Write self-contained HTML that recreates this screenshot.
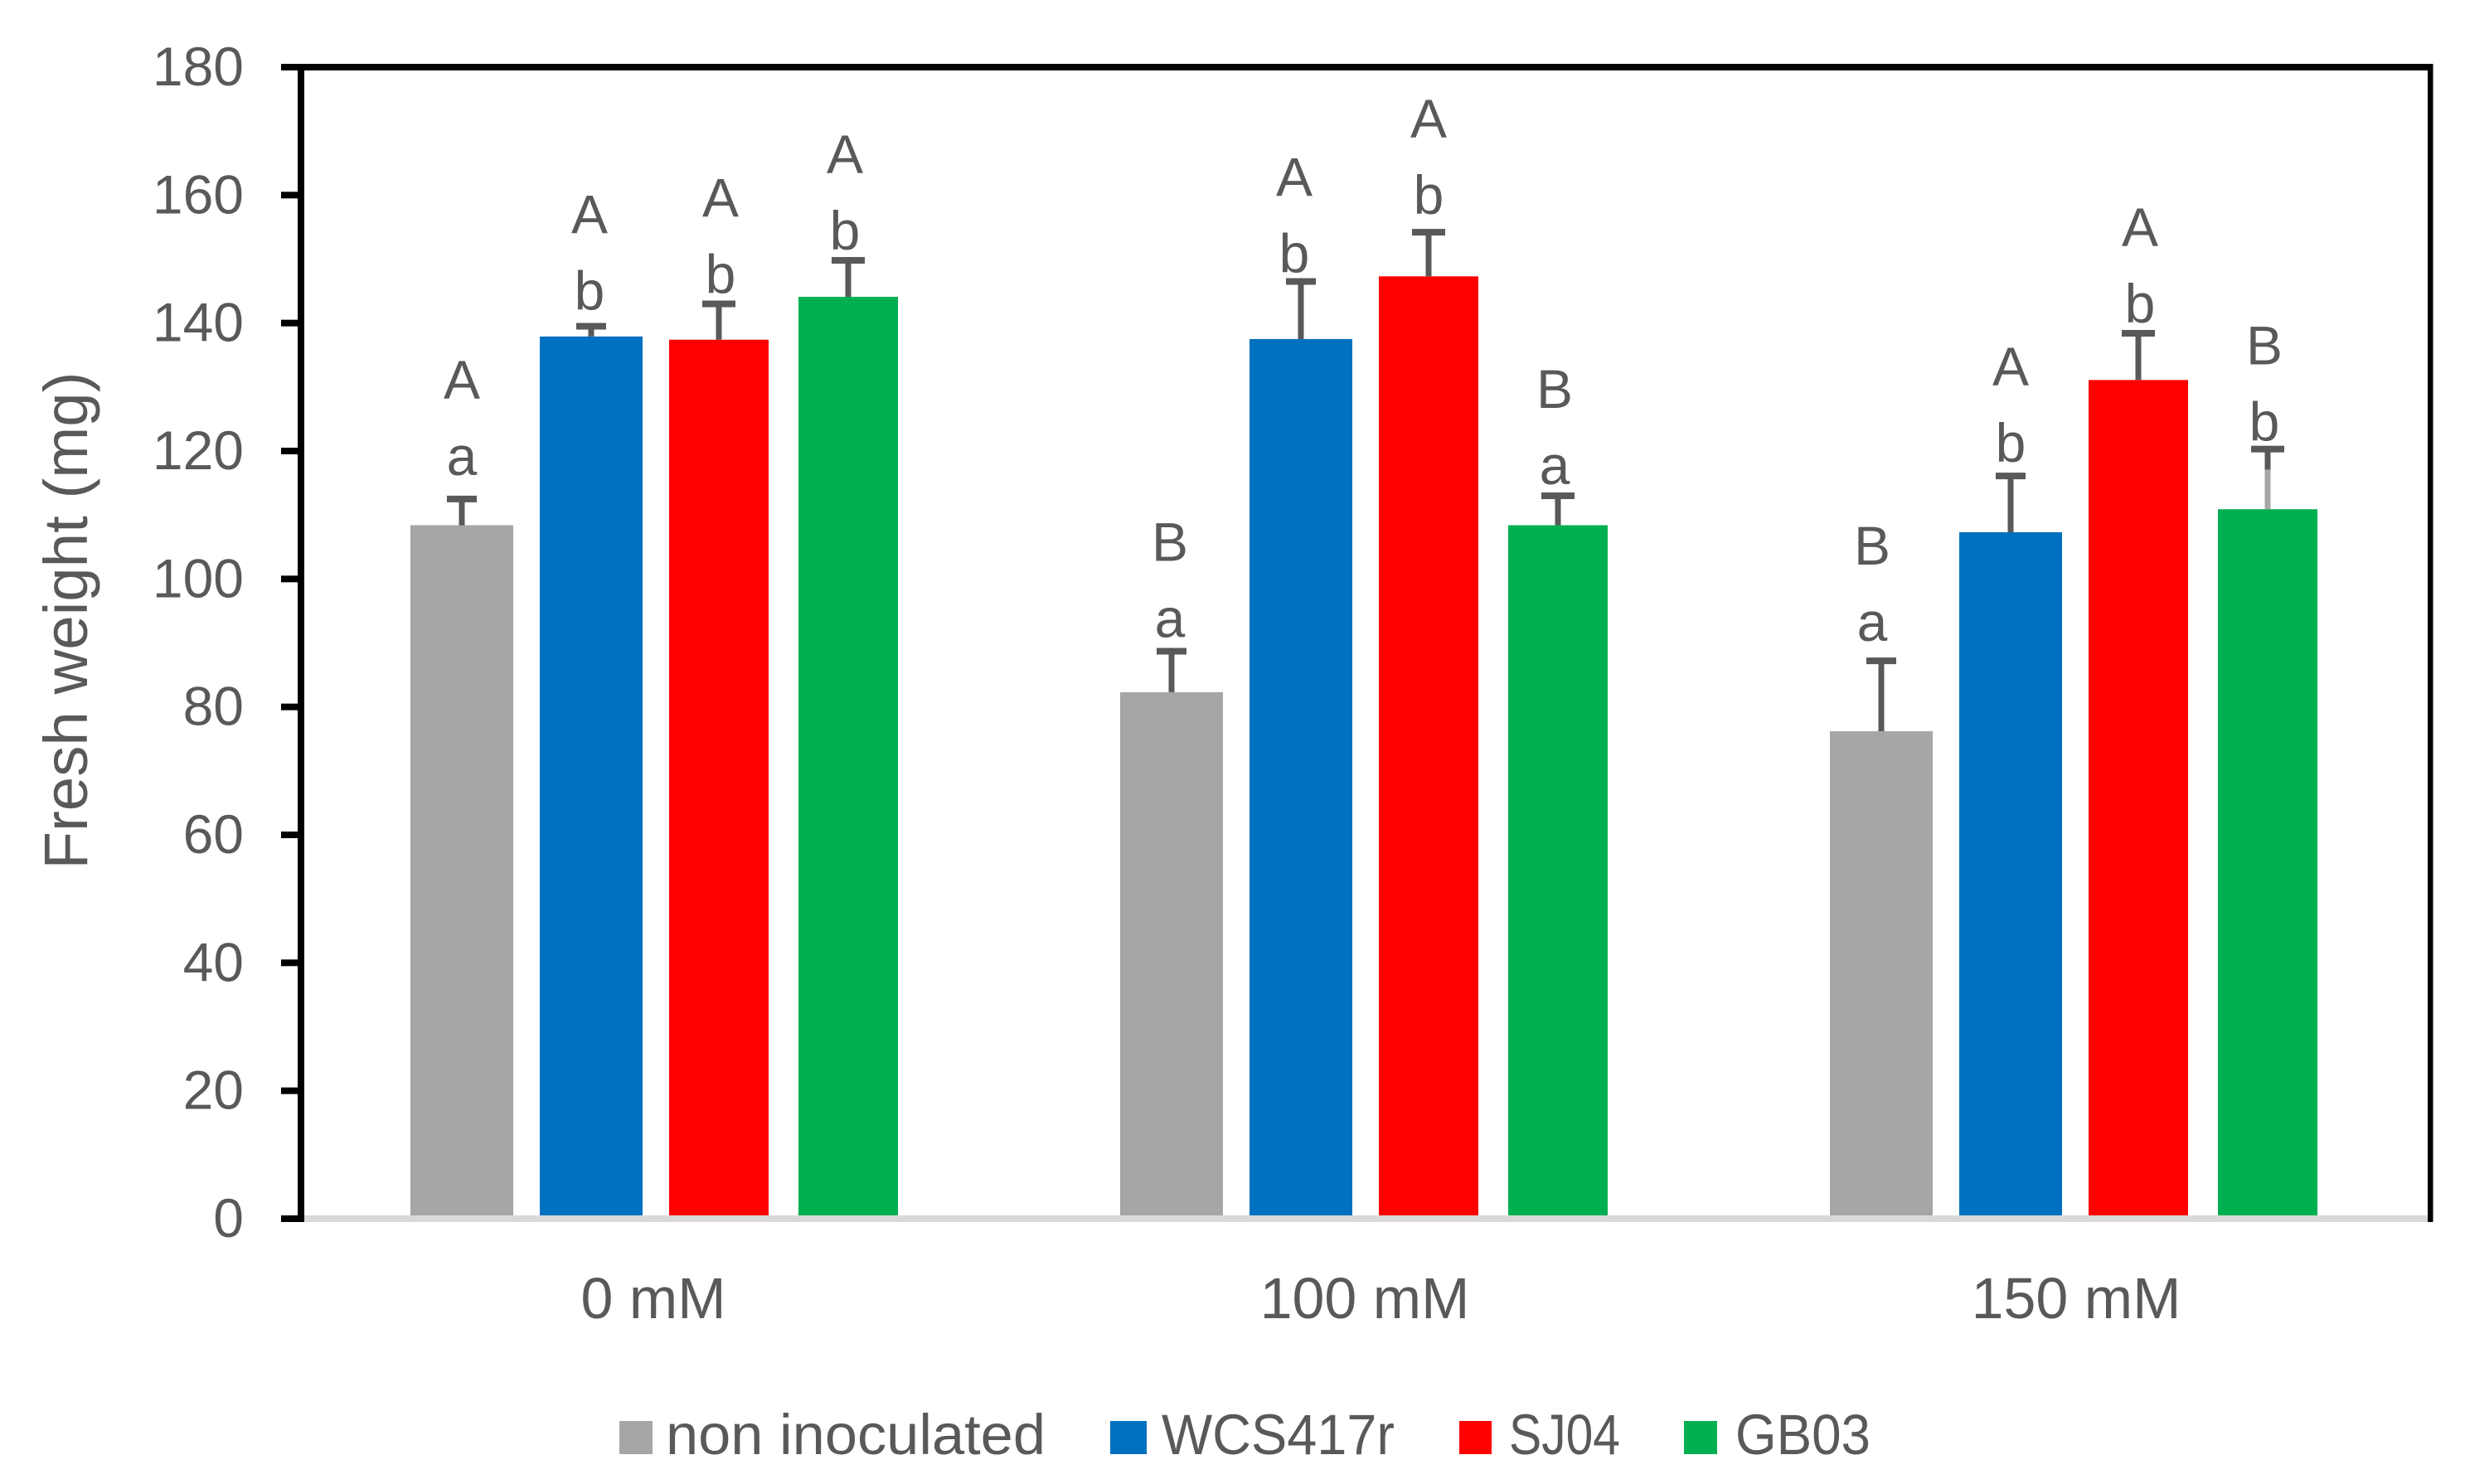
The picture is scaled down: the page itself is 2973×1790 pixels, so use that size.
<!DOCTYPE html>
<html lang="en">
<head>
<meta charset="utf-8">
<title>Fresh weight by salt concentration</title>
<style>
  html, body { margin: 0; padding: 0; background: #ffffff; }
  svg { display: block; }
  text { font-family: "Liberation Sans", sans-serif; fill: #595959; }
</style>
</head>
<body>
<svg id="chart" xmlns="http://www.w3.org/2000/svg" width="2973" height="1790" viewBox="0 0 2973 1790">
  <rect x="0" y="0" width="2973" height="1790" fill="#ffffff"/>
  <g id="bars"></g>
  <g id="errors"></g>
  <g id="letters"></g>
  <g id="axes"></g>
  <text transform="translate(105,748.5) rotate(-90)" text-anchor="middle" font-size="74" textLength="600" lengthAdjust="spacingAndGlyphs">Fresh weight (mg)</text>
  <g>
    <g>
      <rect x="747" y="1714" width="40" height="40" fill="#a6a6a6"/>
      <text x="803" y="1754" font-size="69" textLength="458" lengthAdjust="spacingAndGlyphs">non inoculated</text>
    </g>
    <g>
      <rect x="1339" y="1714" width="44" height="40" fill="#0070c0"/>
      <text x="1401" y="1754" font-size="69" textLength="281" lengthAdjust="spacingAndGlyphs">WCS417r</text>
    </g>
    <g>
      <rect x="1760" y="1714" width="39" height="40" fill="#ff0000"/>
      <text x="1820" y="1754" font-size="69" textLength="134" lengthAdjust="spacingAndGlyphs">SJ04</text>
    </g>
    <g>
      <rect x="2031" y="1714" width="40" height="40" fill="#00b050"/>
      <text x="2093" y="1754" font-size="69" textLength="163" lengthAdjust="spacingAndGlyphs">GB03</text>
    </g>
  </g>
</svg>
<script>
// ---- Chart data ----
const categories = ['0 mM', '100 mM', '150 mM'];
const yTicks = [0, 20, 40, 60, 80, 100, 120, 140, 160, 180];

const nonInoculated = [108.4, 82.3, 76.2];
const wcs417r = [137.9, 137.5, 107.3];
const sj04 = [137.4, 147.3, 131.1];
const gb03 = [144.1, 108.4, 110.9];

const nonInoculatedError = [4.1, 6.4, 11.0];
const wcs417rError = [1.6, 9.0, 8.8];
const sj04Error = [5.6, 6.9, 7.3];
const gb03Error = [5.7, 4.6, 9.4];

// Part of each GB03 error stem drawn in the lighter grey (the 150 mM bar only).
const gb03FadedStem = [0, 0, 6.2];

const nonInoculatedUpper = ['A', 'B', 'B'];
const wcs417rUpper = ['A', 'A', 'A'];
const sj04Upper = ['A', 'A', 'A'];
const gb03Upper = ['A', 'B', 'B'];

const nonInoculatedLower = ['a', 'a', 'a'];
const wcs417rLower = ['b', 'b', 'b'];
const sj04Lower = ['b', 'b', 'b'];
const gb03Lower = ['b', 'a', 'b'];

// ---- Layout ----
const plotLeft = 363, plotBottom = 1470, plotTop = 81, bandWidth = 856;
const yMax = 180;
const firstBarOffset = 132, barStep = 156;
const letterLineGap = 92;
const categoryLabelStart = 788, categoryLabelStep = 858;
const series = [
  { key: 'non-inoculated', values: nonInoculated, errors: nonInoculatedError, upper: nonInoculatedUpper, lower: nonInoculatedLower, color: '#a6a6a6', barWidth: 124, capWidth: 36, clearance: [29, 17, 24], letterShift: [0, -2, -11] },
  { key: 'wcs417r', values: wcs417r, errors: wcs417rError, upper: wcs417rUpper, lower: wcs417rLower, color: '#0070c0', barWidth: 124, capWidth: 36, clearance: [20, 11, 17], letterShift: [-2, -8, 0] },
  { key: 'sj04', values: sj04, errors: sj04Error, upper: sj04Upper, lower: sj04Lower, color: '#ff0000', barWidth: 120, capWidth: 40, clearance: [13, 22, 13], letterShift: [2, 0, 2] },
  { key: 'gb03', values: gb03, errors: gb03Error, upper: gb03Upper, lower: gb03Lower, color: '#00b050', barWidth: 120, capWidth: 40, clearance: [13, 14, 10], letterShift: [-4, -4, -4] }
];

// ---- Axis functions ----
function yScale(v) { return plotBottom - (v / yMax) * (plotBottom - plotTop); }
function bandStart(c) { return plotLeft + c * bandWidth; }
function barLeft(c, s) { return bandStart(c) + firstBarOffset + s * barStep; }

const SVG_NS = 'http://www.w3.org/2000/svg';
function make(parent, tag, attrs, content) {
  const node = document.createElementNS(SVG_NS, tag);
  for (const k in attrs) node.setAttribute(k, attrs[k]);
  if (content !== undefined) node.textContent = content;
  parent.appendChild(node);
  return node;
}

const barsLayer = document.getElementById('bars');
const errorsLayer = document.getElementById('errors');
const lettersLayer = document.getElementById('letters');
const axesLayer = document.getElementById('axes');

series.forEach(function (sr, s) {
  categories.forEach(function (cat, c) {
    const left = barLeft(c, s);
    const cx = left + sr.barWidth / 2;
    const topY = yScale(sr.values[c]);
    const capY = yScale(sr.values[c] + sr.errors[c]);

    let el = make(barsLayer, 'rect', { x: left, y: topY, width: sr.barWidth, height: plotBottom - topY, fill: sr.color });
    
    

    el = make(errorsLayer, 'rect', { x: cx - 3.5, y: capY, width: 7, height: topY - capY, fill: '#595959' });
    
    

    if (sr.key === 'gb03' && gb03FadedStem[c] > 0) {
      const fadeY = yScale(sr.values[c] + gb03FadedStem[c]);
      el = make(errorsLayer, 'rect', { x: cx - 3.5, y: fadeY, width: 7, height: topY - fadeY, fill: '#a6a6a6' });
      
      
    }

    el = make(errorsLayer, 'rect', { x: cx - sr.capWidth / 2, y: capY - 4, width: sr.capWidth, height: 8, fill: '#595959' });
    
    

    const lowerBase = capY - sr.clearance[c];
    const letterX = cx + sr.letterShift[c];
    el = make(lettersLayer, 'text', { x: letterX, y: lowerBase, 'text-anchor': 'middle', 'font-size': 66 }, sr.lower[c]);
    
    

    el = make(lettersLayer, 'text', { x: letterX, y: lowerBase - letterLineGap, 'text-anchor': 'middle', 'font-size': 66 }, sr.upper[c]);
    
    
  });
});

// Axis frame
let axisEl = make(axesLayer, 'rect', { x: plotLeft, y: plotBottom - 4, width: 2568, height: 8, fill: '#d9d9d9' });



axisEl = make(axesLayer, 'rect', { x: 339, y: plotTop - 4, width: 2595.5, height: 8, fill: '#000000' });



axisEl = make(axesLayer, 'rect', { x: plotLeft - 4, y: plotTop, width: 8, height: plotBottom - plotTop + 4, fill: '#000000' });



axisEl = make(axesLayer, 'rect', { x: 2928, y: plotTop - 4, width: 6.5, height: plotBottom - plotTop + 8, fill: '#000000' });



yTicks.forEach(function (t) {
  const y = yScale(t);
  let el = make(axesLayer, 'rect', { x: 339, y: y - 4, width: 24, height: 8, fill: '#000000' });
  
  

  el = make(axesLayer, 'text', { x: 294, y: y + 22, 'text-anchor': 'end', 'font-size': 66 }, String(t));
  
  
});

categories.forEach(function (cat, c) {
  const el = make(axesLayer, 'text', { x: categoryLabelStart + c * categoryLabelStep, y: 1590, 'text-anchor': 'middle', 'font-size': 70 }, cat);
  
  
});
</script>
</body>
</html>
